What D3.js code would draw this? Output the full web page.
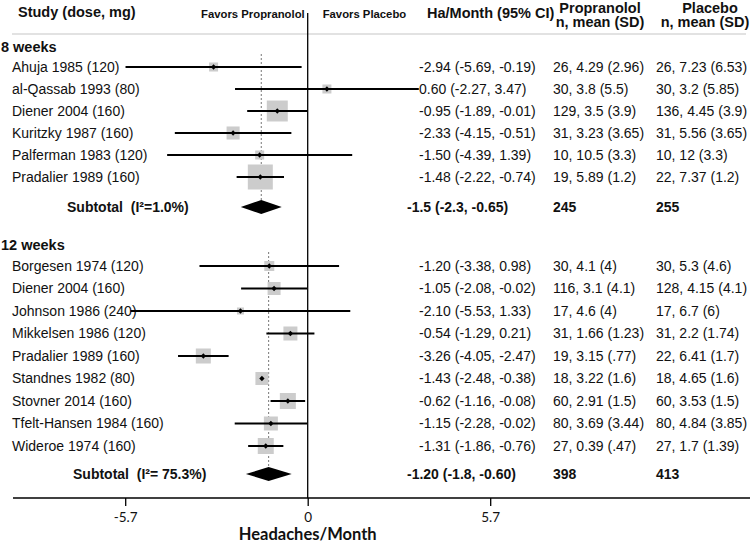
<!DOCTYPE html>
<html><head><meta charset="utf-8">
<script src="https://cdn.jsdelivr.net/npm/d3@7"></script>
<style>body{margin:0;background:#fff} text{white-space:pre}</style>
</head><body><svg id="c" width="750" height="544"></svg>
<script>
// ---- data ----
const groupLabels = ["8 weeks", "12 weeks"];

const studies8 = ["Ahuja 1985 (120)", "al-Qassab 1993 (80)", "Diener 2004 (160)", "Kuritzky 1987 (160)", "Palferman 1983 (120)", "Pradalier 1989 (160)"];
const est8 = [-2.94, 0.60, -0.95, -2.33, -1.50, -1.48];
const lo8 = [-5.69, -2.27, -1.89, -4.15, -4.39, -2.22];
const hi8 = [-0.19, 3.47, -0.01, -0.51, 1.39, -0.74];
const weight8 = [8.1, 8.1, 44, 17, 8.1, 62.5];
const ciShown8 = [true, true, true, true, true, true];
const ciText8 = ["-2.94 (-5.69, -0.19)", "0.60 (-2.27, 3.47)", "-0.95 (-1.89, -0.01)", "-2.33 (-4.15, -0.51)", "-1.50 (-4.39, 1.39)", "-1.48 (-2.22, -0.74)"];
const prop8 = ["26, 4.29 (2.96)", "30, 3.8 (5.5)", "129, 3.5 (3.9)", "31, 3.23 (3.65)", "10, 10.5 (3.3)", "19, 5.89 (1.2)"];
const plac8 = ["26, 7.23 (6.53)", "30, 3.2 (5.85)", "136, 4.45 (3.9)", "31, 5.56 (3.65)", "10, 12 (3.3)", "22, 7.37 (1.2)"];

const studies12 = ["Borgesen 1974 (120)", "Diener 2004 (160)", "Johnson 1986 (240)", "Mikkelsen 1986 (120)", "Pradalier 1989 (160)", "Standnes 1982 (80)", "Stovner 2014 (160)", "Tfelt-Hansen 1984 (160)", "Wideroe 1974 (160)"];
const est12 = [-1.20, -1.05, -2.10, -0.54, -3.26, -1.43, -0.62, -1.15, -1.31];
const lo12 = [-3.38, -2.08, -5.53, -1.29, -4.05, -2.48, -1.16, -2.28, -1.86];
const hi12 = [0.98, -0.02, 1.33, 0.21, -2.47, -0.38, -0.08, -0.02, -0.76];
const weight12 = [10, 16.9, 4.9, 19.6, 22.5, 16.9, 25.6, 19.6, 25.6];
const ciShown12 = [true, true, true, true, true, false, true, true, true];
const ciText12 = ["-1.20 (-3.38, 0.98)", "-1.05 (-2.08, -0.02)", "-2.10 (-5.53, 1.33)", "-0.54 (-1.29, 0.21)", "-3.26 (-4.05, -2.47)", "-1.43 (-2.48, -0.38)", "-0.62 (-1.16, -0.08)", "-1.15 (-2.28, -0.02)", "-1.31 (-1.86, -0.76)"];
const prop12 = ["30, 4.1 (4)", "116, 3.1 (4.1)", "17, 4.6 (4)", "31, 1.66 (1.23)", "19, 3.15 (.77)", "18, 3.22 (1.6)", "60, 2.91 (1.5)", "80, 3.69 (3.44)", "27, 0.39 (.47)"];
const plac12 = ["30, 5.3 (4.6)", "128, 4.15 (4.1)", "17, 6.7 (6)", "31, 2.2 (1.74)", "22, 6.41 (1.7)", "18, 4.65 (1.6)", "60, 3.53 (1.5)", "80, 4.84 (3.85)", "27, 1.7 (1.39)"];

// subtotals (diamond extents as drawn)
const subLabels = ["Subtotal  (I²=1.0%)", "Subtotal  (I²= 75.3%)"];
const subEst = [-1.45, -1.22];
const subLo = [-2.09, -1.93];
const subHi = [-0.81, -0.50];
const subCIText = ["-1.5 (-2.3, -0.65)", "-1.20 (-1.8, -0.60)"];
const subNProp = ["245", "398"];
const subNPlac = ["255", "413"];

const tickValues = [-5.7, 0, 5.7];
const tickLabels = ["-5.7", "0", "5.7"];
const axisTitle = "Headaches/Month";
const favorLabels = ["Favors Propranolol", "Favors Placebo"];
const headers = ["Study (dose, mg)", "Ha/Month (95% CI)", "Propranolol", "n, mean (SD)", "Placebo", "n, mean (SD)"];

// ---- layout ----
const svg = d3.select("#c");
const FONT = "'Liberation Sans', Arial, Helvetica, sans-serif";
const x = d3.scaleLinear().domain([-5.7, 5.7]).range([125.2, 490.2]);
const xText = 419, xSubText = 407, xProp = 553, xPlac = 656;

const groupsCfg = [
  {label: groupLabels[0], labelY: 47, studies: studies8, est: est8, lo: lo8, hi: hi8, w: weight8, shown: ciShown8, ci: ciText8, prop: prop8, plac: plac8,
   y: d3.scalePoint().domain(studies8).range([67, 177]), subY: 207, subLabelX: 67},
  {label: groupLabels[1], labelY: 245, studies: studies12, est: est12, lo: lo12, hi: hi12, w: weight12, shown: ciShown12, ci: ciText12, prop: prop12, plac: plac12,
   y: d3.scalePoint().domain(studies12).range([266, 446]), subY: 474, subLabelX: 73}
];

const allW = weight8.concat(weight12);
const boxSize = d3.scaleSqrt().domain([0, d3.max(allW)]).range([0, 25]);

// header
const hdr = svg.append("g").attr("font-family", FONT).attr("font-weight", "bold").attr("fill", "#111");
hdr.append("text").attr("x", 18).attr("y", 17).attr("font-size", 14.5).text(headers[0]);
hdr.append("text").attr("x", 427).attr("y", 18).attr("font-size", 14.5).text(headers[1]);
hdr.append("text").attr("x", 600).attr("y", 12.5).attr("font-size", 14.5).attr("text-anchor", "middle").text(headers[2]);
hdr.append("text").attr("x", 600).attr("y", 27).attr("font-size", 14.5).attr("text-anchor", "middle").text(headers[3]);
hdr.append("text").attr("x", 710).attr("y", 12.5).attr("font-size", 14.5).attr("text-anchor", "middle").text(headers[4]);
hdr.append("text").attr("x", 705).attr("y", 27).attr("font-size", 14.5).attr("text-anchor", "middle").text(headers[5]);
hdr.append("text").attr("x", x(0) - 3).attr("y", 18).attr("font-size", 11.3).attr("text-anchor", "end").text(favorLabels[0]);
hdr.append("text").attr("x", x(0) + 15).attr("y", 18).attr("font-size", 11.3).text(favorLabels[1]);

svg.append("line").attr("x1", 12).attr("x2", 746).attr("y1", 34).attr("y2", 34)
  .attr("stroke", "#d8d8d8").attr("stroke-width", 1.5);

// groups
groupsCfg.forEach((g, gi) => {
  const G = svg.append("g");
  G.append("text").attr("x", 1).attr("y", g.labelY).attr("dy", "0.35em")
    .attr("font-family", FONT).attr("font-weight", "bold").attr("font-size", 14.5).attr("fill", "#111").text(g.label);

  // dotted pooled line
  G.append("line").attr("x1", x(subEst[gi])).attr("x2", x(subEst[gi]))
    .attr("y1", g.labelY + 7).attr("y2", g.subY - 6)
    .attr("stroke", "#555").attr("stroke-width", 0.8).attr("stroke-dasharray", "2,2");

  const rows = g.studies.map((s, i) => ({s, est: g.est[i], lo: g.lo[i], hi: g.hi[i], w: g.w[i], shown: g.shown[i], ci: g.ci[i], prop: g.prop[i], plac: g.plac[i]}));

  const txt = G.append("g").attr("font-family", FONT).attr("font-size", 14).attr("fill", "#111");
  rows.forEach(r => {
    const yy = g.y(r.s);
    txt.append("text").attr("x", 12).attr("y", yy).attr("dy", "0.35em").text(r.s);
    txt.append("text").attr("x", xText).attr("y", yy).attr("dy", "0.35em").text(r.ci);
    txt.append("text").attr("x", xProp).attr("y", yy).attr("dy", "0.35em").text(r.prop);
    txt.append("text").attr("x", xPlac).attr("y", yy).attr("dy", "0.35em").text(r.plac);
  });

  // boxes
  G.selectAll("rect.box").data(rows).join("rect").attr("class", "box")
    .attr("x", d => x(d.est) - boxSize(d.w) / 2).attr("y", d => g.y(d.s) - boxSize(d.w) / 2)
    .attr("width", d => boxSize(d.w)).attr("height", d => boxSize(d.w))
    .attr("fill", "#cccccc");
  // CI lines
  G.selectAll("line.ci").data(rows.filter(d => d.shown)).join("line").attr("class", "ci")
    .attr("x1", d => x(d.lo)).attr("x2", d => x(d.hi))
    .attr("y1", d => g.y(d.s)).attr("y2", d => g.y(d.s))
    .attr("stroke", "#000").attr("stroke-width", 2);
  // point markers
  G.selectAll("path.pt").data(rows).join("path").attr("class", "pt")
    .attr("d", d3.symbol(d3.symbolSquare, 14))
    .attr("transform", d => `translate(${x(d.est)},${g.y(d.s)}) rotate(45)`)
    .attr("fill", "#000");

  // subtotal
  const sy = g.subY, hh = 7;
  G.append("path")
    .attr("d", `M${x(subLo[gi])},${sy} L${x(subEst[gi])},${sy - hh} L${x(subHi[gi])},${sy} L${x(subEst[gi])},${sy + hh} Z`)
    .attr("fill", "#000");
  const st = G.append("g").attr("font-family", FONT).attr("font-size", 14).attr("font-weight", "bold").attr("fill", "#111");
  st.append("text").attr("x", g.subLabelX).attr("y", sy).attr("dy", "0.35em").text(subLabels[gi]);
  st.append("text").attr("x", xSubText).attr("y", sy).attr("dy", "0.35em").text(subCIText[gi]);
  st.append("text").attr("x", xProp).attr("y", sy).attr("dy", "0.35em").text(subNProp[gi]);
  st.append("text").attr("x", xPlac).attr("y", sy).attr("dy", "0.35em").text(subNPlac[gi]);
});

// zero line
const axisY = 498;
svg.append("line").attr("x1", x(0)).attr("x2", x(0)).attr("y1", 13).attr("y2", axisY)
  .attr("stroke", "#000").attr("stroke-width", 1.3);

// axis
const ax = svg.append("g").attr("transform", `translate(0,${axisY})`)
  .call(d3.axisBottom(x).tickValues(tickValues).tickSize(8).tickPadding(6)
    .tickFormat((d, i) => tickLabels[i]));
ax.select(".domain").remove();
ax.selectAll(".tick line").attr("stroke", "#000").attr("stroke-width", 1.3);
ax.selectAll(".tick text").attr("font-family", "Lato, 'Open Sans', sans-serif").attr("font-size", 13.5).attr("fill", "#111");
svg.append("line").attr("x1", 13).attr("x2", 750).attr("y1", axisY).attr("y2", axisY)
  .attr("stroke", "#000").attr("stroke-width", 1.3);
svg.append("text").attr("x", x(0)).attr("y", 539.5).attr("text-anchor", "middle")
  .attr("font-family", "Lato, 'Open Sans', sans-serif").attr("font-weight", "bold").attr("font-size", 16.5)
  .attr("fill", "#111").text(axisTitle);
</script></body></html>
